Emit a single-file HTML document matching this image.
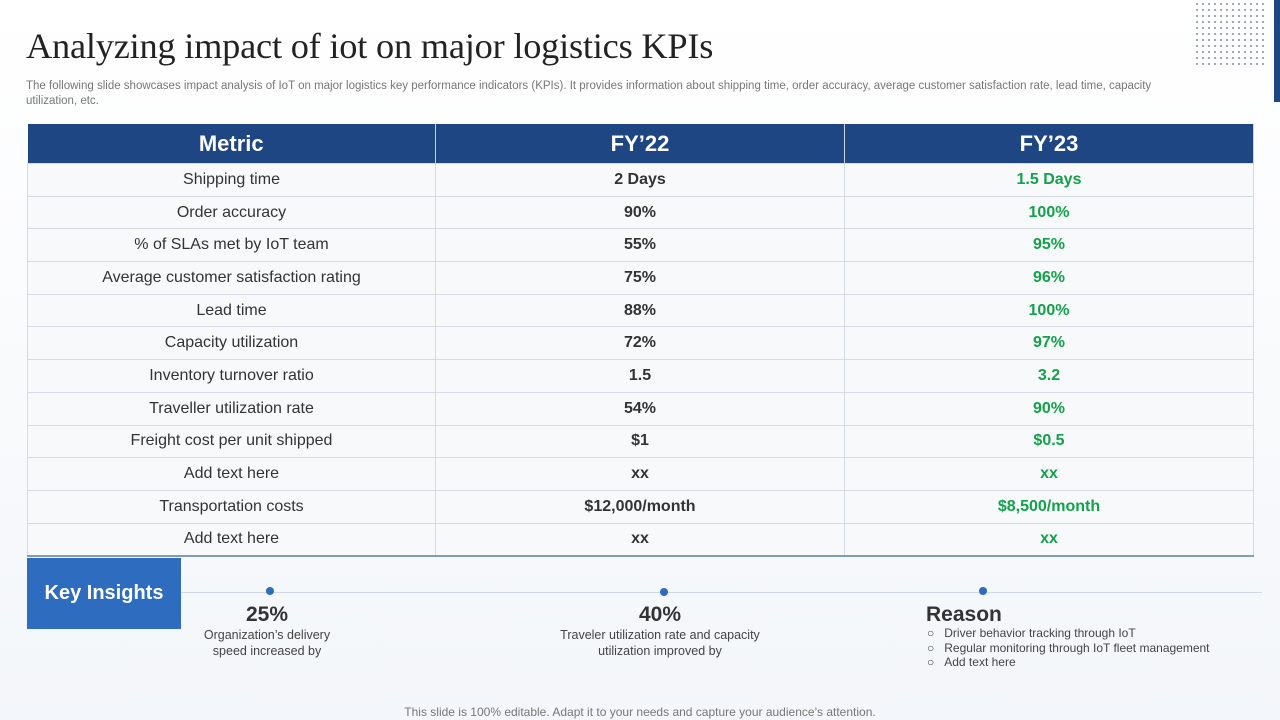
<!DOCTYPE html>
<html><head><meta charset="utf-8"><style>
body{margin:0;width:1280px;height:720px;overflow:hidden;background:linear-gradient(#ffffff,#f3f6fa);font-family:"Liberation Sans",sans-serif;position:relative}
.abs{position:absolute}
h1{position:absolute;left:26px;top:25px;margin:0;font-family:"Liberation Serif",serif;font-weight:normal;font-size:36.3px;color:#222;letter-spacing:-0.2px}
.sub{left:26px;top:79px;width:1240px;font-size:11.5px;color:#777;line-height:14.5px;white-space:nowrap}
table{position:absolute;left:27px;top:124px;width:1227px;border-collapse:collapse;table-layout:fixed}
th{background:#1e4683;color:#fff;font-size:22px;height:37px;font-weight:bold;border-right:1px solid #c8d2e0}
td{height:31.7px;font-size:16px;text-align:center;border:1px solid #d5dbe3;background:#f8f9fb;color:#333;padding:0}
td.b{font-weight:bold;color:#333}
td.g{font-weight:bold;color:#12a24a}
tr:last-child td{border-bottom:2px solid #7f9cba}
.dot{width:8px;height:8px;border-radius:50%;background:#2e6cc0}
.big{font-size:21px;font-weight:bold;color:#333}
.small{font-size:12.5px;color:#444;line-height:16px;text-align:center}
</style></head><body>
<div class="abs" style="left:1194px;top:1px;width:72px;height:68px;background-image:radial-gradient(#8a94a3 0.9px,transparent 1.1px);background-size:6px 6px"></div>
<div class="abs" style="left:1274px;top:0;width:6px;height:102px;background:#1e4683"></div>
<h1>Analyzing impact of iot on major logistics KPIs</h1>
<div class="abs sub">The following slide showcases impact analysis of IoT on major logistics key performance indicators (KPIs). It provides information about shipping time, order accuracy, average customer satisfaction rate, lead time, capacity<br>utilization, etc.</div>
<table>
<colgroup><col style="width:408px"><col style="width:409px"><col></colgroup>
<tr><th>Metric</th><th>FY’22</th><th>FY’23</th></tr>
<tr><td>Shipping time</td><td class="b">2 Days</td><td class="g">1.5 Days</td></tr>
<tr><td>Order accuracy</td><td class="b">90%</td><td class="g">100%</td></tr>
<tr><td>% of SLAs met by IoT team</td><td class="b">55%</td><td class="g">95%</td></tr>
<tr><td>Average customer satisfaction rating</td><td class="b">75%</td><td class="g">96%</td></tr>
<tr><td>Lead time</td><td class="b">88%</td><td class="g">100%</td></tr>
<tr><td>Capacity utilization</td><td class="b">72%</td><td class="g">97%</td></tr>
<tr><td>Inventory turnover ratio</td><td class="b">1.5</td><td class="g">3.2</td></tr>
<tr><td>Traveller utilization rate</td><td class="b">54%</td><td class="g">90%</td></tr>
<tr><td>Freight cost per unit shipped</td><td class="b">$1</td><td class="g">$0.5</td></tr>
<tr><td>Add text here</td><td class="b">xx</td><td class="g">xx</td></tr>
<tr><td>Transportation costs</td><td class="b">$12,000/month</td><td class="g">$8,500/month</td></tr>
<tr><td>Add text here</td><td class="b">xx</td><td class="g">xx</td></tr>
</table>
<div class="abs" style="left:27px;top:558px;width:154px;height:71px;background:#2e6cc0;color:#fff;font-size:20px;font-weight:bold;display:flex;align-items:center;justify-content:center">Key Insights</div>
<div class="abs" style="left:181px;top:592px;width:1081px;height:1px;background:#cfd8e3"></div>
<div class="abs dot" style="left:266px;top:587px"></div>
<div class="abs dot" style="left:660px;top:588px"></div>
<div class="abs dot" style="left:979px;top:587px"></div>
<div class="abs big" style="left:246px;top:603px">25%</div>
<div class="abs small" style="left:187px;top:627px;width:160px">Organization’s delivery<br>speed increased by</div>
<div class="abs big" style="left:639px;top:603px">40%</div>
<div class="abs small" style="left:530px;top:627px;width:260px">Traveler utilization rate and capacity<br>utilization improved by</div>
<div class="abs big" style="left:926px;top:603px">Reason</div>
<div class="abs" style="left:927px;top:626px;font-size:12px;color:#444;line-height:14.5px">
<div>○&nbsp;&nbsp;&nbsp;Driver behavior tracking through IoT</div>
<div>○&nbsp;&nbsp;&nbsp;Regular monitoring through IoT fleet management</div>
<div>○&nbsp;&nbsp;&nbsp;Add text here</div></div>
<div class="abs" style="left:0;width:1280px;top:705px;text-align:center;font-size:12px;color:#777">This slide is 100% editable. Adapt it to your needs and capture your audience’s attention.</div>
</body></html>
